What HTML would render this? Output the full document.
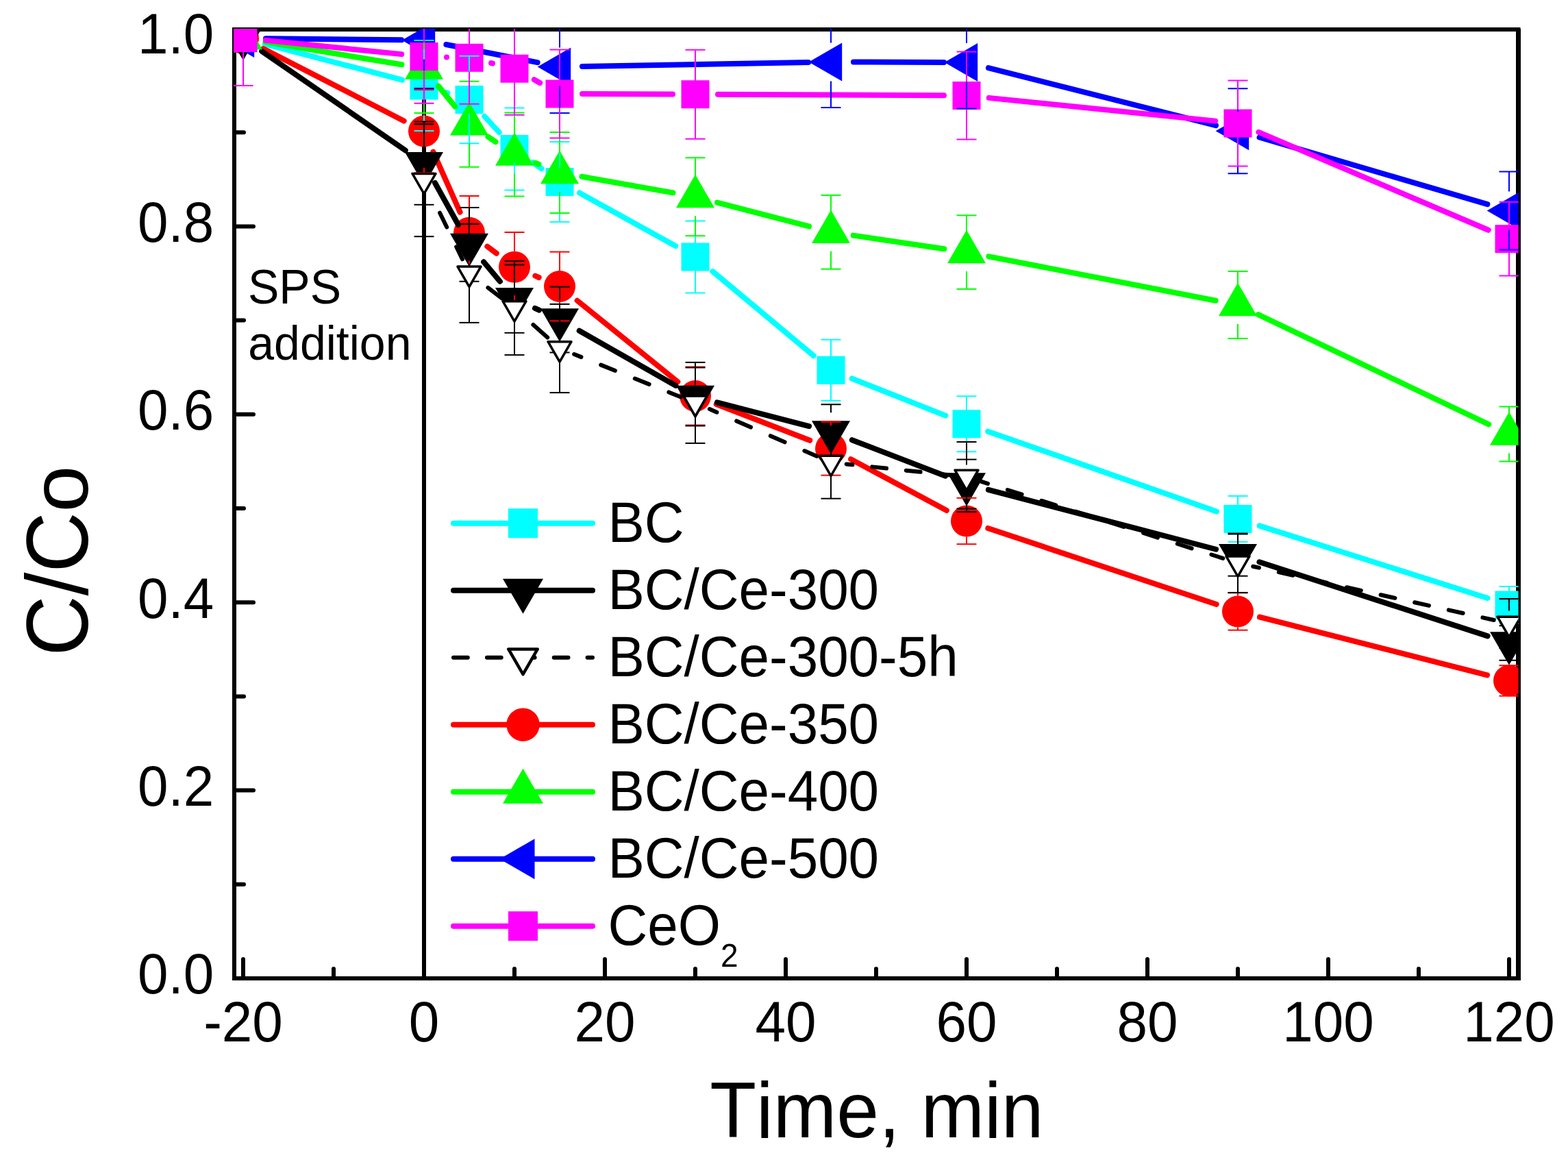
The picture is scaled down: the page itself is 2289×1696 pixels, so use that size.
<!DOCTYPE html>
<html><head><meta charset="utf-8"><title>C/Co vs Time</title>
<style>
html,body{margin:0;padding:0;background:#fff;}
body{width:2289px;height:1696px;overflow:hidden;}
svg{display:block;}
text{font-family:"Liberation Sans", Arial, sans-serif;font-kerning:none;font-feature-settings:"kern" 0;}
</style></head><body>
<svg width="2289" height="1696" viewBox="0 0 2289 1696"><g fill="none" stroke="#000">
<rect x="342" y="43" width="1874.5" height="1385" stroke-width="6"/>
</g>
<line x1="2216.5" y1="42" x2="2216.5" y2="1431" stroke="#000" stroke-width="7"/>
<g stroke="#000" stroke-width="6" stroke-linecap="round"><line x1="345" y1="1428.00" x2="370" y2="1428.00"/><line x1="345" y1="1290.80" x2="356" y2="1290.80"/><line x1="345" y1="1153.60" x2="370" y2="1153.60"/><line x1="345" y1="1016.40" x2="356" y2="1016.40"/><line x1="345" y1="879.20" x2="370" y2="879.20"/><line x1="345" y1="742.00" x2="356" y2="742.00"/><line x1="345" y1="604.80" x2="370" y2="604.80"/><line x1="345" y1="467.60" x2="356" y2="467.60"/><line x1="345" y1="330.40" x2="370" y2="330.40"/><line x1="345" y1="193.20" x2="356" y2="193.20"/><line x1="345" y1="56.00" x2="370" y2="56.00"/><line x1="355.00" y1="1425" x2="355.00" y2="1400"/><line x1="487.00" y1="1425" x2="487.00" y2="1414"/><line x1="619.00" y1="1425" x2="619.00" y2="1400"/><line x1="751.00" y1="1425" x2="751.00" y2="1414"/><line x1="883.00" y1="1425" x2="883.00" y2="1400"/><line x1="1015.00" y1="1425" x2="1015.00" y2="1414"/><line x1="1147.00" y1="1425" x2="1147.00" y2="1400"/><line x1="1279.00" y1="1425" x2="1279.00" y2="1414"/><line x1="1411.00" y1="1425" x2="1411.00" y2="1400"/><line x1="1543.00" y1="1425" x2="1543.00" y2="1414"/><line x1="1675.00" y1="1425" x2="1675.00" y2="1400"/><line x1="1807.00" y1="1425" x2="1807.00" y2="1414"/><line x1="1939.00" y1="1425" x2="1939.00" y2="1400"/><line x1="2071.00" y1="1425" x2="2071.00" y2="1414"/><line x1="2203.00" y1="1425" x2="2203.00" y2="1400"/></g>
<g font-family="Liberation Sans, Arial, sans-serif" fill="#000"><text transform="translate(312.30,1450.30) scale(1,1.04)" font-size="80" text-anchor="end">0.0</text><text transform="translate(312.30,1175.90) scale(1,1.04)" font-size="80" text-anchor="end">0.2</text><text transform="translate(312.30,901.50) scale(1,1.04)" font-size="80" text-anchor="end">0.4</text><text transform="translate(312.30,627.10) scale(1,1.04)" font-size="80" text-anchor="end">0.6</text><text transform="translate(312.30,352.70) scale(1,1.04)" font-size="80" text-anchor="end">0.8</text><text transform="translate(312.30,78.30) scale(1,1.04)" font-size="80" text-anchor="end">1.0</text><text transform="translate(355.00,1520.00) scale(1,1.04)" font-size="80" text-anchor="middle">-20</text><text transform="translate(619.00,1520.00) scale(1,1.04)" font-size="80" text-anchor="middle">0</text><text transform="translate(883.00,1520.00) scale(1,1.04)" font-size="80" text-anchor="middle">20</text><text transform="translate(1147.00,1520.00) scale(1,1.04)" font-size="80" text-anchor="middle">40</text><text transform="translate(1411.00,1520.00) scale(1,1.04)" font-size="80" text-anchor="middle">60</text><text transform="translate(1675.00,1520.00) scale(1,1.04)" font-size="80" text-anchor="middle">80</text><text transform="translate(1939.00,1520.00) scale(1,1.04)" font-size="80" text-anchor="middle">100</text><text transform="translate(2203.00,1520.00) scale(1,1.04)" font-size="80" text-anchor="middle">120</text></g>
<g font-family="Liberation Sans, Arial, sans-serif" fill="#000">
<text transform="translate(128.4,957.5) rotate(-90) scale(1,1.045)" font-size="122">C/C<tspan font-size="114.4" textLength="67.85" lengthAdjust="spacingAndGlyphs">o</tspan></text>
<text transform="translate(1036.30,1660.00) scale(1,1.04)" font-size="111" text-anchor="start">Time, min</text>
<text transform="translate(362.00,443.00) scale(1,1.04)" font-size="68" text-anchor="start">SPS</text>
<text transform="translate(362.30,524.70) scale(1,1.04)" font-size="68" text-anchor="start">addition</text>
</g>
<defs><clipPath id="pc"><rect x="341" y="42" width="1875.5" height="1386"/></clipPath></defs>
<g clip-path="url(#pc)">
<line x1="619" y1="42" x2="619" y2="1428" stroke="#000" stroke-width="6"/>
<line x1="386.93" y1="64.34" x2="587.07" y2="116.66" stroke="#00FFFF" stroke-width="8" stroke-linecap="round"/>
<line x1="650.51" y1="134.79" x2="653.49" y2="135.71" stroke="#00FFFF" stroke-width="8" stroke-linecap="round"/>
<line x1="707.30" y1="169.83" x2="728.70" y2="193.17" stroke="#00FFFF" stroke-width="8" stroke-linecap="round"/>
<line x1="777.69" y1="236.91" x2="790.31" y2="246.09" stroke="#00FFFF" stroke-width="8" stroke-linecap="round"/>
<line x1="845.88" y1="281.47" x2="986.12" y2="359.03" stroke="#00FFFF" stroke-width="8" stroke-linecap="round"/>
<line x1="1040.33" y1="396.15" x2="1187.67" y2="519.15" stroke="#00FFFF" stroke-width="8" stroke-linecap="round"/>
<line x1="1243.68" y1="552.46" x2="1380.32" y2="606.64" stroke="#00FFFF" stroke-width="8" stroke-linecap="round"/>
<line x1="1442.15" y1="629.70" x2="1775.85" y2="746.50" stroke="#00FFFF" stroke-width="8" stroke-linecap="round"/>
<line x1="1838.46" y1="767.38" x2="2171.54" y2="873.02" stroke="#00FFFF" stroke-width="8" stroke-linecap="round"/>
<rect x="334.50" y="35.50" width="41" height="41" fill="#00FFFF"/>
<rect x="598.50" y="104.50" width="41" height="41" fill="#00FFFF"/>
<rect x="664.50" y="125.00" width="41" height="41" fill="#00FFFF"/>
<rect x="730.50" y="197.00" width="41" height="41" fill="#00FFFF"/>
<rect x="796.50" y="245.00" width="41" height="41" fill="#00FFFF"/>
<rect x="994.50" y="354.50" width="41" height="41" fill="#00FFFF"/>
<rect x="1192.50" y="519.80" width="41" height="41" fill="#00FFFF"/>
<rect x="1390.50" y="598.30" width="41" height="41" fill="#00FFFF"/>
<rect x="1786.50" y="736.90" width="41" height="41" fill="#00FFFF"/>
<rect x="2182.50" y="862.50" width="41" height="41" fill="#00FFFF"/>
<line x1="384.35" y1="71.08" x2="589.65" y2="176.52" stroke="#FF0000" stroke-width="8" stroke-linecap="round"/>
<line x1="632.43" y1="221.74" x2="671.57" y2="309.56" stroke="#FF0000" stroke-width="8" stroke-linecap="round"/>
<line x1="711.30" y1="359.63" x2="724.70" y2="369.77" stroke="#FF0000" stroke-width="8" stroke-linecap="round"/>
<line x1="781.33" y1="402.70" x2="786.67" y2="405.00" stroke="#FF0000" stroke-width="8" stroke-linecap="round"/>
<line x1="842.67" y1="438.74" x2="989.33" y2="557.26" stroke="#FF0000" stroke-width="8" stroke-linecap="round"/>
<line x1="1045.77" y1="589.92" x2="1182.23" y2="642.78" stroke="#FF0000" stroke-width="8" stroke-linecap="round"/>
<line x1="1242.11" y1="670.25" x2="1381.89" y2="744.95" stroke="#FF0000" stroke-width="8" stroke-linecap="round"/>
<line x1="1442.31" y1="770.94" x2="1775.69" y2="882.06" stroke="#FF0000" stroke-width="8" stroke-linecap="round"/>
<line x1="1838.98" y1="900.66" x2="2171.02" y2="985.34" stroke="#FF0000" stroke-width="8" stroke-linecap="round"/>
<circle cx="355.00" cy="56.00" r="23" fill="#FF0000"/>
<circle cx="619.00" cy="191.60" r="23" fill="#FF0000"/>
<circle cx="685.00" cy="339.70" r="23" fill="#FF0000"/>
<circle cx="751.00" cy="389.70" r="23" fill="#FF0000"/>
<circle cx="817.00" cy="418.00" r="23" fill="#FF0000"/>
<circle cx="1015.00" cy="578.00" r="23" fill="#FF0000"/>
<circle cx="1213.00" cy="654.70" r="23" fill="#FF0000"/>
<circle cx="1411.00" cy="760.50" r="23" fill="#FF0000"/>
<circle cx="1807.00" cy="892.50" r="23" fill="#FF0000"/>
<circle cx="2203.00" cy="993.50" r="23" fill="#FF0000"/>
<line x1="382.16" y1="74.74" x2="591.84" y2="219.46" stroke="#000000" stroke-width="8" stroke-linecap="round"/>
<line x1="635.04" y1="267.04" x2="668.96" y2="328.01" stroke="#000000" stroke-width="8" stroke-linecap="round"/>
<line x1="706.12" y1="382.21" x2="729.88" y2="410.74" stroke="#000000" stroke-width="8" stroke-linecap="round"/>
<line x1="780.97" y1="449.91" x2="787.03" y2="452.69" stroke="#000000" stroke-width="8" stroke-linecap="round"/>
<line x1="845.69" y1="482.80" x2="986.31" y2="562.70" stroke="#000000" stroke-width="8" stroke-linecap="round"/>
<line x1="1046.95" y1="587.28" x2="1181.05" y2="622.02" stroke="#000000" stroke-width="8" stroke-linecap="round"/>
<line x1="1243.80" y1="642.15" x2="1380.20" y2="694.65" stroke="#000000" stroke-width="8" stroke-linecap="round"/>
<line x1="1442.93" y1="714.85" x2="1775.07" y2="801.75" stroke="#000000" stroke-width="8" stroke-linecap="round"/>
<line x1="1838.39" y1="820.28" x2="2171.61" y2="928.32" stroke="#000000" stroke-width="8" stroke-linecap="round"/>
<polygon points="355.00,88.33 327.00,39.83 383.00,39.83" fill="#000000"/>
<polygon points="619.00,270.53 591.00,222.03 647.00,222.03" fill="#000000"/>
<polygon points="685.00,389.18 657.00,340.68 713.00,340.68" fill="#000000"/>
<polygon points="751.00,468.43 723.00,419.93 779.00,419.93" fill="#000000"/>
<polygon points="817.00,498.83 789.00,450.33 845.00,450.33" fill="#000000"/>
<polygon points="1015.00,611.33 987.00,562.83 1043.00,562.83" fill="#000000"/>
<polygon points="1213.00,662.63 1185.00,614.13 1241.00,614.13" fill="#000000"/>
<polygon points="1411.00,738.83 1383.00,690.33 1439.00,690.33" fill="#000000"/>
<polygon points="1807.00,842.43 1779.00,793.93 1835.00,793.93" fill="#000000"/>
<polygon points="2203.00,970.83 2175.00,922.33 2231.00,922.33" fill="#000000"/>
<line x1="387.56" y1="61.39" x2="586.44" y2="94.31" stroke="#00FF00" stroke-width="8" stroke-linecap="round"/>
<line x1="639.75" y1="125.36" x2="664.25" y2="155.64" stroke="#00FF00" stroke-width="8" stroke-linecap="round"/>
<line x1="712.42" y1="199.66" x2="723.58" y2="207.14" stroke="#00FF00" stroke-width="8" stroke-linecap="round"/>
<line x1="781.62" y1="237.80" x2="786.38" y2="239.70" stroke="#00FF00" stroke-width="8" stroke-linecap="round"/>
<line x1="849.49" y1="257.78" x2="982.51" y2="281.42" stroke="#00FF00" stroke-width="8" stroke-linecap="round"/>
<line x1="1046.93" y1="295.52" x2="1181.07" y2="330.48" stroke="#00FF00" stroke-width="8" stroke-linecap="round"/>
<line x1="1245.64" y1="343.63" x2="1378.36" y2="363.27" stroke="#00FF00" stroke-width="8" stroke-linecap="round"/>
<line x1="1443.39" y1="374.39" x2="1774.61" y2="438.71" stroke="#00FF00" stroke-width="8" stroke-linecap="round"/>
<line x1="1836.80" y1="459.18" x2="2173.20" y2="619.32" stroke="#00FF00" stroke-width="8" stroke-linecap="round"/>
<polygon points="355.00,23.67 327.00,72.17 383.00,72.17" fill="#00FF00"/>
<polygon points="619.00,67.37 591.00,115.87 647.00,115.87" fill="#00FF00"/>
<polygon points="685.00,148.97 657.00,197.47 713.00,197.47" fill="#00FF00"/>
<polygon points="751.00,193.17 723.00,241.67 779.00,241.67" fill="#00FF00"/>
<polygon points="817.00,219.67 789.00,268.17 845.00,268.17" fill="#00FF00"/>
<polygon points="1015.00,254.87 987.00,303.37 1043.00,303.37" fill="#00FF00"/>
<polygon points="1213.00,306.47 1185.00,354.97 1241.00,354.97" fill="#00FF00"/>
<polygon points="1411.00,335.77 1383.00,384.27 1439.00,384.27" fill="#00FF00"/>
<polygon points="1807.00,412.67 1779.00,461.17 1835.00,461.17" fill="#00FF00"/>
<polygon points="2203.00,601.17 2175.00,649.67 2231.00,649.67" fill="#00FF00"/>
<line x1="388.00" y1="56.34" x2="586.00" y2="58.36" stroke="#0000FF" stroke-width="8" stroke-linecap="round"/>
<line x1="651.38" y1="65.05" x2="784.62" y2="91.15" stroke="#0000FF" stroke-width="8" stroke-linecap="round"/>
<line x1="849.99" y1="96.91" x2="1180.01" y2="90.99" stroke="#0000FF" stroke-width="8" stroke-linecap="round"/>
<line x1="1246.00" y1="90.50" x2="1378.00" y2="90.90" stroke="#0000FF" stroke-width="8" stroke-linecap="round"/>
<line x1="1442.99" y1="99.09" x2="1775.01" y2="183.11" stroke="#0000FF" stroke-width="8" stroke-linecap="round"/>
<line x1="1838.66" y1="200.50" x2="2171.34" y2="298.20" stroke="#0000FF" stroke-width="8" stroke-linecap="round"/>
<polygon points="322.67,56.00 371.17,28.00 371.17,84.00" fill="#0000FF"/>
<polygon points="586.67,58.70 635.17,30.70 635.17,86.70" fill="#0000FF"/>
<polygon points="784.67,97.50 833.17,69.50 833.17,125.50" fill="#0000FF"/>
<polygon points="1180.67,90.40 1229.17,62.40 1229.17,118.40" fill="#0000FF"/>
<polygon points="1378.67,91.00 1427.17,63.00 1427.17,119.00" fill="#0000FF"/>
<polygon points="1774.67,191.20 1823.17,163.20 1823.17,219.20" fill="#0000FF"/>
<polygon points="2170.67,307.50 2219.17,279.50 2219.17,335.50" fill="#0000FF"/>
<line x1="387.83" y1="58.86" x2="586.17" y2="79.14" stroke="#FF00FF" stroke-width="8" stroke-linecap="round"/>
<line x1="651.99" y1="83.40" x2="652.01" y2="83.40" stroke="#FF00FF" stroke-width="8" stroke-linecap="round"/>
<line x1="717.08" y1="92.03" x2="718.92" y2="92.47" stroke="#FF00FF" stroke-width="8" stroke-linecap="round"/>
<line x1="779.82" y1="116.27" x2="788.18" y2="120.93" stroke="#FF00FF" stroke-width="8" stroke-linecap="round"/>
<line x1="850.00" y1="137.12" x2="982.00" y2="137.58" stroke="#FF00FF" stroke-width="8" stroke-linecap="round"/>
<line x1="1048.00" y1="137.85" x2="1378.00" y2="139.35" stroke="#FF00FF" stroke-width="8" stroke-linecap="round"/>
<line x1="1443.83" y1="142.86" x2="1774.17" y2="176.64" stroke="#FF00FF" stroke-width="8" stroke-linecap="round"/>
<line x1="1837.36" y1="192.93" x2="2172.64" y2="335.77" stroke="#FF00FF" stroke-width="8" stroke-linecap="round"/>
<rect x="334.50" y="35.00" width="41" height="41" fill="#FF00FF"/>
<rect x="598.50" y="62.00" width="41" height="41" fill="#FF00FF"/>
<rect x="664.50" y="63.80" width="41" height="41" fill="#FF00FF"/>
<rect x="730.50" y="79.70" width="41" height="41" fill="#FF00FF"/>
<rect x="796.50" y="116.50" width="41" height="41" fill="#FF00FF"/>
<rect x="994.50" y="117.20" width="41" height="41" fill="#FF00FF"/>
<rect x="1390.50" y="119.00" width="41" height="41" fill="#FF00FF"/>
<rect x="1786.50" y="159.50" width="41" height="41" fill="#FF00FF"/>
<rect x="2182.50" y="328.20" width="41" height="41" fill="#FF00FF"/>
<line x1="619.00" y1="105.00" x2="619.00" y2="59.00" stroke="#00FFFF" stroke-width="2"/>
<line x1="604.50" y1="59.00" x2="633.50" y2="59.00" stroke="#00FFFF" stroke-width="2"/>
<line x1="619.00" y1="145.00" x2="619.00" y2="191.00" stroke="#00FFFF" stroke-width="2"/>
<line x1="604.50" y1="191.00" x2="633.50" y2="191.00" stroke="#00FFFF" stroke-width="2"/>
<line x1="685.00" y1="125.50" x2="685.00" y2="81.80" stroke="#00FFFF" stroke-width="2"/>
<line x1="670.50" y1="81.80" x2="699.50" y2="81.80" stroke="#00FFFF" stroke-width="2"/>
<line x1="685.00" y1="165.50" x2="685.00" y2="209.20" stroke="#00FFFF" stroke-width="2"/>
<line x1="670.50" y1="209.20" x2="699.50" y2="209.20" stroke="#00FFFF" stroke-width="2"/>
<line x1="751.00" y1="197.50" x2="751.00" y2="157.50" stroke="#00FFFF" stroke-width="2"/>
<line x1="736.50" y1="157.50" x2="765.50" y2="157.50" stroke="#00FFFF" stroke-width="2"/>
<line x1="751.00" y1="237.50" x2="751.00" y2="277.50" stroke="#00FFFF" stroke-width="2"/>
<line x1="736.50" y1="277.50" x2="765.50" y2="277.50" stroke="#00FFFF" stroke-width="2"/>
<line x1="817.00" y1="245.50" x2="817.00" y2="207.10" stroke="#00FFFF" stroke-width="2"/>
<line x1="802.50" y1="207.10" x2="831.50" y2="207.10" stroke="#00FFFF" stroke-width="2"/>
<line x1="817.00" y1="285.50" x2="817.00" y2="323.90" stroke="#00FFFF" stroke-width="2"/>
<line x1="802.50" y1="323.90" x2="831.50" y2="323.90" stroke="#00FFFF" stroke-width="2"/>
<line x1="1015.00" y1="355.00" x2="1015.00" y2="322.50" stroke="#00FFFF" stroke-width="2"/>
<line x1="1000.50" y1="322.50" x2="1029.50" y2="322.50" stroke="#00FFFF" stroke-width="2"/>
<line x1="1015.00" y1="395.00" x2="1015.00" y2="427.50" stroke="#00FFFF" stroke-width="2"/>
<line x1="1000.50" y1="427.50" x2="1029.50" y2="427.50" stroke="#00FFFF" stroke-width="2"/>
<line x1="1213.00" y1="520.30" x2="1213.00" y2="495.80" stroke="#00FFFF" stroke-width="2"/>
<line x1="1198.50" y1="495.80" x2="1227.50" y2="495.80" stroke="#00FFFF" stroke-width="2"/>
<line x1="1213.00" y1="560.30" x2="1213.00" y2="584.80" stroke="#00FFFF" stroke-width="2"/>
<line x1="1198.50" y1="584.80" x2="1227.50" y2="584.80" stroke="#00FFFF" stroke-width="2"/>
<line x1="1411.00" y1="598.80" x2="1411.00" y2="578.30" stroke="#00FFFF" stroke-width="2"/>
<line x1="1396.50" y1="578.30" x2="1425.50" y2="578.30" stroke="#00FFFF" stroke-width="2"/>
<line x1="1411.00" y1="638.80" x2="1411.00" y2="659.30" stroke="#00FFFF" stroke-width="2"/>
<line x1="1396.50" y1="659.30" x2="1425.50" y2="659.30" stroke="#00FFFF" stroke-width="2"/>
<line x1="1807.00" y1="737.40" x2="1807.00" y2="723.90" stroke="#00FFFF" stroke-width="2"/>
<line x1="1792.50" y1="723.90" x2="1821.50" y2="723.90" stroke="#00FFFF" stroke-width="2"/>
<line x1="1807.00" y1="777.40" x2="1807.00" y2="790.90" stroke="#00FFFF" stroke-width="2"/>
<line x1="1792.50" y1="790.90" x2="1821.50" y2="790.90" stroke="#00FFFF" stroke-width="2"/>
<line x1="2203.00" y1="863.00" x2="2203.00" y2="856.00" stroke="#00FFFF" stroke-width="2"/>
<line x1="2188.50" y1="856.00" x2="2217.50" y2="856.00" stroke="#00FFFF" stroke-width="2"/>
<line x1="2203.00" y1="903.00" x2="2203.00" y2="910.00" stroke="#00FFFF" stroke-width="2"/>
<line x1="2188.50" y1="910.00" x2="2217.50" y2="910.00" stroke="#00FFFF" stroke-width="2"/>
<line x1="619.00" y1="168.60" x2="619.00" y2="130.90" stroke="#FF0000" stroke-width="2"/>
<line x1="604.50" y1="130.90" x2="633.50" y2="130.90" stroke="#FF0000" stroke-width="2"/>
<line x1="619.00" y1="214.60" x2="619.00" y2="252.30" stroke="#FF0000" stroke-width="2"/>
<line x1="604.50" y1="252.30" x2="633.50" y2="252.30" stroke="#FF0000" stroke-width="2"/>
<line x1="685.00" y1="316.70" x2="685.00" y2="286.00" stroke="#FF0000" stroke-width="2"/>
<line x1="670.50" y1="286.00" x2="699.50" y2="286.00" stroke="#FF0000" stroke-width="2"/>
<line x1="685.00" y1="362.70" x2="685.00" y2="393.40" stroke="#FF0000" stroke-width="2"/>
<line x1="670.50" y1="393.40" x2="699.50" y2="393.40" stroke="#FF0000" stroke-width="2"/>
<line x1="751.00" y1="366.70" x2="751.00" y2="339.00" stroke="#FF0000" stroke-width="2"/>
<line x1="736.50" y1="339.00" x2="765.50" y2="339.00" stroke="#FF0000" stroke-width="2"/>
<line x1="751.00" y1="412.70" x2="751.00" y2="440.40" stroke="#FF0000" stroke-width="2"/>
<line x1="736.50" y1="440.40" x2="765.50" y2="440.40" stroke="#FF0000" stroke-width="2"/>
<line x1="817.00" y1="395.00" x2="817.00" y2="367.60" stroke="#FF0000" stroke-width="2"/>
<line x1="802.50" y1="367.60" x2="831.50" y2="367.60" stroke="#FF0000" stroke-width="2"/>
<line x1="817.00" y1="441.00" x2="817.00" y2="468.40" stroke="#FF0000" stroke-width="2"/>
<line x1="802.50" y1="468.40" x2="831.50" y2="468.40" stroke="#FF0000" stroke-width="2"/>
<line x1="1015.00" y1="555.00" x2="1015.00" y2="535.50" stroke="#FF0000" stroke-width="2"/>
<line x1="1000.50" y1="535.50" x2="1029.50" y2="535.50" stroke="#FF0000" stroke-width="2"/>
<line x1="1015.00" y1="601.00" x2="1015.00" y2="620.50" stroke="#FF0000" stroke-width="2"/>
<line x1="1000.50" y1="620.50" x2="1029.50" y2="620.50" stroke="#FF0000" stroke-width="2"/>
<line x1="1213.00" y1="631.70" x2="1213.00" y2="615.70" stroke="#FF0000" stroke-width="2"/>
<line x1="1198.50" y1="615.70" x2="1227.50" y2="615.70" stroke="#FF0000" stroke-width="2"/>
<line x1="1213.00" y1="677.70" x2="1213.00" y2="693.70" stroke="#FF0000" stroke-width="2"/>
<line x1="1198.50" y1="693.70" x2="1227.50" y2="693.70" stroke="#FF0000" stroke-width="2"/>
<line x1="1411.00" y1="737.50" x2="1411.00" y2="726.80" stroke="#FF0000" stroke-width="2"/>
<line x1="1396.50" y1="726.80" x2="1425.50" y2="726.80" stroke="#FF0000" stroke-width="2"/>
<line x1="1411.00" y1="783.50" x2="1411.00" y2="794.20" stroke="#FF0000" stroke-width="2"/>
<line x1="1396.50" y1="794.20" x2="1425.50" y2="794.20" stroke="#FF0000" stroke-width="2"/>
<line x1="1807.00" y1="869.50" x2="1807.00" y2="865.30" stroke="#FF0000" stroke-width="2"/>
<line x1="1792.50" y1="865.30" x2="1821.50" y2="865.30" stroke="#FF0000" stroke-width="2"/>
<line x1="1807.00" y1="915.50" x2="1807.00" y2="919.70" stroke="#FF0000" stroke-width="2"/>
<line x1="1792.50" y1="919.70" x2="1821.50" y2="919.70" stroke="#FF0000" stroke-width="2"/>
<line x1="2188.50" y1="971.20" x2="2217.50" y2="971.20" stroke="#FF0000" stroke-width="2"/>
<line x1="2188.50" y1="1015.80" x2="2217.50" y2="1015.80" stroke="#FF0000" stroke-width="2"/>
<line x1="619.00" y1="210.20" x2="619.00" y2="177.60" stroke="#000000" stroke-width="2"/>
<line x1="604.50" y1="177.60" x2="633.50" y2="177.60" stroke="#000000" stroke-width="2"/>
<line x1="619.00" y1="266.20" x2="619.00" y2="298.80" stroke="#000000" stroke-width="2"/>
<line x1="604.50" y1="298.80" x2="633.50" y2="298.80" stroke="#000000" stroke-width="2"/>
<line x1="685.00" y1="328.85" x2="685.00" y2="302.95" stroke="#000000" stroke-width="2"/>
<line x1="670.50" y1="302.95" x2="699.50" y2="302.95" stroke="#000000" stroke-width="2"/>
<line x1="685.00" y1="384.85" x2="685.00" y2="410.75" stroke="#000000" stroke-width="2"/>
<line x1="670.50" y1="410.75" x2="699.50" y2="410.75" stroke="#000000" stroke-width="2"/>
<line x1="751.00" y1="408.10" x2="751.00" y2="386.40" stroke="#000000" stroke-width="2"/>
<line x1="736.50" y1="386.40" x2="765.50" y2="386.40" stroke="#000000" stroke-width="2"/>
<line x1="751.00" y1="464.10" x2="751.00" y2="485.80" stroke="#000000" stroke-width="2"/>
<line x1="736.50" y1="485.80" x2="765.50" y2="485.80" stroke="#000000" stroke-width="2"/>
<line x1="817.00" y1="438.50" x2="817.00" y2="418.50" stroke="#000000" stroke-width="2"/>
<line x1="802.50" y1="418.50" x2="831.50" y2="418.50" stroke="#000000" stroke-width="2"/>
<line x1="817.00" y1="494.50" x2="817.00" y2="514.50" stroke="#000000" stroke-width="2"/>
<line x1="802.50" y1="514.50" x2="831.50" y2="514.50" stroke="#000000" stroke-width="2"/>
<line x1="1015.00" y1="551.00" x2="1015.00" y2="536.50" stroke="#000000" stroke-width="2"/>
<line x1="1000.50" y1="536.50" x2="1029.50" y2="536.50" stroke="#000000" stroke-width="2"/>
<line x1="1015.00" y1="607.00" x2="1015.00" y2="621.50" stroke="#000000" stroke-width="2"/>
<line x1="1000.50" y1="621.50" x2="1029.50" y2="621.50" stroke="#000000" stroke-width="2"/>
<line x1="1213.00" y1="602.30" x2="1213.00" y2="590.30" stroke="#000000" stroke-width="2"/>
<line x1="1198.50" y1="590.30" x2="1227.50" y2="590.30" stroke="#000000" stroke-width="2"/>
<line x1="1213.00" y1="658.30" x2="1213.00" y2="670.30" stroke="#000000" stroke-width="2"/>
<line x1="1198.50" y1="670.30" x2="1227.50" y2="670.30" stroke="#000000" stroke-width="2"/>
<line x1="1411.00" y1="678.50" x2="1411.00" y2="670.60" stroke="#000000" stroke-width="2"/>
<line x1="1396.50" y1="670.60" x2="1425.50" y2="670.60" stroke="#000000" stroke-width="2"/>
<line x1="1411.00" y1="734.50" x2="1411.00" y2="742.40" stroke="#000000" stroke-width="2"/>
<line x1="1396.50" y1="742.40" x2="1425.50" y2="742.40" stroke="#000000" stroke-width="2"/>
<line x1="1807.00" y1="782.10" x2="1807.00" y2="779.50" stroke="#000000" stroke-width="2"/>
<line x1="1792.50" y1="779.50" x2="1821.50" y2="779.50" stroke="#000000" stroke-width="2"/>
<line x1="1807.00" y1="838.10" x2="1807.00" y2="840.70" stroke="#000000" stroke-width="2"/>
<line x1="1792.50" y1="840.70" x2="1821.50" y2="840.70" stroke="#000000" stroke-width="2"/>
<line x1="2188.50" y1="913.20" x2="2217.50" y2="913.20" stroke="#000000" stroke-width="2"/>
<line x1="2188.50" y1="963.80" x2="2217.50" y2="963.80" stroke="#000000" stroke-width="2"/>
<line x1="619.00" y1="71.70" x2="619.00" y2="34.40" stroke="#00FF00" stroke-width="2"/>
<line x1="604.50" y1="34.40" x2="633.50" y2="34.40" stroke="#00FF00" stroke-width="2"/>
<line x1="619.00" y1="127.70" x2="619.00" y2="165.00" stroke="#00FF00" stroke-width="2"/>
<line x1="604.50" y1="165.00" x2="633.50" y2="165.00" stroke="#00FF00" stroke-width="2"/>
<line x1="685.00" y1="153.30" x2="685.00" y2="118.80" stroke="#00FF00" stroke-width="2"/>
<line x1="670.50" y1="118.80" x2="699.50" y2="118.80" stroke="#00FF00" stroke-width="2"/>
<line x1="685.00" y1="209.30" x2="685.00" y2="243.80" stroke="#00FF00" stroke-width="2"/>
<line x1="670.50" y1="243.80" x2="699.50" y2="243.80" stroke="#00FF00" stroke-width="2"/>
<line x1="751.00" y1="197.50" x2="751.00" y2="164.50" stroke="#00FF00" stroke-width="2"/>
<line x1="736.50" y1="164.50" x2="765.50" y2="164.50" stroke="#00FF00" stroke-width="2"/>
<line x1="751.00" y1="253.50" x2="751.00" y2="286.50" stroke="#00FF00" stroke-width="2"/>
<line x1="736.50" y1="286.50" x2="765.50" y2="286.50" stroke="#00FF00" stroke-width="2"/>
<line x1="817.00" y1="224.00" x2="817.00" y2="193.00" stroke="#00FF00" stroke-width="2"/>
<line x1="802.50" y1="193.00" x2="831.50" y2="193.00" stroke="#00FF00" stroke-width="2"/>
<line x1="817.00" y1="280.00" x2="817.00" y2="311.00" stroke="#00FF00" stroke-width="2"/>
<line x1="802.50" y1="311.00" x2="831.50" y2="311.00" stroke="#00FF00" stroke-width="2"/>
<line x1="1015.00" y1="259.20" x2="1015.00" y2="230.20" stroke="#00FF00" stroke-width="2"/>
<line x1="1000.50" y1="230.20" x2="1029.50" y2="230.20" stroke="#00FF00" stroke-width="2"/>
<line x1="1015.00" y1="315.20" x2="1015.00" y2="344.20" stroke="#00FF00" stroke-width="2"/>
<line x1="1000.50" y1="344.20" x2="1029.50" y2="344.20" stroke="#00FF00" stroke-width="2"/>
<line x1="1213.00" y1="310.80" x2="1213.00" y2="284.90" stroke="#00FF00" stroke-width="2"/>
<line x1="1198.50" y1="284.90" x2="1227.50" y2="284.90" stroke="#00FF00" stroke-width="2"/>
<line x1="1213.00" y1="366.80" x2="1213.00" y2="392.70" stroke="#00FF00" stroke-width="2"/>
<line x1="1198.50" y1="392.70" x2="1227.50" y2="392.70" stroke="#00FF00" stroke-width="2"/>
<line x1="1411.00" y1="340.10" x2="1411.00" y2="314.30" stroke="#00FF00" stroke-width="2"/>
<line x1="1396.50" y1="314.30" x2="1425.50" y2="314.30" stroke="#00FF00" stroke-width="2"/>
<line x1="1411.00" y1="396.10" x2="1411.00" y2="421.90" stroke="#00FF00" stroke-width="2"/>
<line x1="1396.50" y1="421.90" x2="1425.50" y2="421.90" stroke="#00FF00" stroke-width="2"/>
<line x1="1807.00" y1="417.00" x2="1807.00" y2="396.00" stroke="#00FF00" stroke-width="2"/>
<line x1="1792.50" y1="396.00" x2="1821.50" y2="396.00" stroke="#00FF00" stroke-width="2"/>
<line x1="1807.00" y1="473.00" x2="1807.00" y2="494.00" stroke="#00FF00" stroke-width="2"/>
<line x1="1792.50" y1="494.00" x2="1821.50" y2="494.00" stroke="#00FF00" stroke-width="2"/>
<line x1="2203.00" y1="605.50" x2="2203.00" y2="593.50" stroke="#00FF00" stroke-width="2"/>
<line x1="2188.50" y1="593.50" x2="2217.50" y2="593.50" stroke="#00FF00" stroke-width="2"/>
<line x1="2203.00" y1="661.50" x2="2203.00" y2="673.50" stroke="#00FF00" stroke-width="2"/>
<line x1="2188.50" y1="673.50" x2="2217.50" y2="673.50" stroke="#00FF00" stroke-width="2"/>
<line x1="619.00" y1="30.70" x2="619.00" y2="-11.60" stroke="#0000FF" stroke-width="2"/>
<line x1="604.50" y1="-11.60" x2="633.50" y2="-11.60" stroke="#0000FF" stroke-width="2"/>
<line x1="619.00" y1="86.70" x2="619.00" y2="129.00" stroke="#0000FF" stroke-width="2"/>
<line x1="604.50" y1="129.00" x2="633.50" y2="129.00" stroke="#0000FF" stroke-width="2"/>
<line x1="817.00" y1="69.50" x2="817.00" y2="30.10" stroke="#0000FF" stroke-width="2"/>
<line x1="802.50" y1="30.10" x2="831.50" y2="30.10" stroke="#0000FF" stroke-width="2"/>
<line x1="817.00" y1="125.50" x2="817.00" y2="164.90" stroke="#0000FF" stroke-width="2"/>
<line x1="802.50" y1="164.90" x2="831.50" y2="164.90" stroke="#0000FF" stroke-width="2"/>
<line x1="1213.00" y1="62.40" x2="1213.00" y2="23.90" stroke="#0000FF" stroke-width="2"/>
<line x1="1198.50" y1="23.90" x2="1227.50" y2="23.90" stroke="#0000FF" stroke-width="2"/>
<line x1="1213.00" y1="118.40" x2="1213.00" y2="156.90" stroke="#0000FF" stroke-width="2"/>
<line x1="1198.50" y1="156.90" x2="1227.50" y2="156.90" stroke="#0000FF" stroke-width="2"/>
<line x1="1411.00" y1="63.00" x2="1411.00" y2="23.40" stroke="#0000FF" stroke-width="2"/>
<line x1="1396.50" y1="23.40" x2="1425.50" y2="23.40" stroke="#0000FF" stroke-width="2"/>
<line x1="1411.00" y1="119.00" x2="1411.00" y2="158.60" stroke="#0000FF" stroke-width="2"/>
<line x1="1396.50" y1="158.60" x2="1425.50" y2="158.60" stroke="#0000FF" stroke-width="2"/>
<line x1="1807.00" y1="163.20" x2="1807.00" y2="129.20" stroke="#0000FF" stroke-width="2"/>
<line x1="1792.50" y1="129.20" x2="1821.50" y2="129.20" stroke="#0000FF" stroke-width="2"/>
<line x1="1807.00" y1="219.20" x2="1807.00" y2="253.20" stroke="#0000FF" stroke-width="2"/>
<line x1="1792.50" y1="253.20" x2="1821.50" y2="253.20" stroke="#0000FF" stroke-width="2"/>
<line x1="2203.00" y1="279.50" x2="2203.00" y2="250.60" stroke="#0000FF" stroke-width="2"/>
<line x1="2188.50" y1="250.60" x2="2217.50" y2="250.60" stroke="#0000FF" stroke-width="2"/>
<line x1="2203.00" y1="335.50" x2="2203.00" y2="364.40" stroke="#0000FF" stroke-width="2"/>
<line x1="2188.50" y1="364.40" x2="2217.50" y2="364.40" stroke="#0000FF" stroke-width="2"/>
<line x1="355.00" y1="35.50" x2="355.00" y2="-14.00" stroke="#FF00FF" stroke-width="2"/>
<line x1="340.50" y1="-14.00" x2="369.50" y2="-14.00" stroke="#FF00FF" stroke-width="2"/>
<line x1="355.00" y1="75.50" x2="355.00" y2="125.00" stroke="#FF00FF" stroke-width="2"/>
<line x1="340.50" y1="125.00" x2="369.50" y2="125.00" stroke="#FF00FF" stroke-width="2"/>
<line x1="619.00" y1="62.50" x2="619.00" y2="14.20" stroke="#FF00FF" stroke-width="2"/>
<line x1="604.50" y1="14.20" x2="633.50" y2="14.20" stroke="#FF00FF" stroke-width="2"/>
<line x1="619.00" y1="102.50" x2="619.00" y2="150.80" stroke="#FF00FF" stroke-width="2"/>
<line x1="604.50" y1="150.80" x2="633.50" y2="150.80" stroke="#FF00FF" stroke-width="2"/>
<line x1="685.00" y1="64.30" x2="685.00" y2="16.80" stroke="#FF00FF" stroke-width="2"/>
<line x1="670.50" y1="16.80" x2="699.50" y2="16.80" stroke="#FF00FF" stroke-width="2"/>
<line x1="685.00" y1="104.30" x2="685.00" y2="151.80" stroke="#FF00FF" stroke-width="2"/>
<line x1="670.50" y1="151.80" x2="699.50" y2="151.80" stroke="#FF00FF" stroke-width="2"/>
<line x1="751.00" y1="80.20" x2="751.00" y2="32.70" stroke="#FF00FF" stroke-width="2"/>
<line x1="736.50" y1="32.70" x2="765.50" y2="32.70" stroke="#FF00FF" stroke-width="2"/>
<line x1="751.00" y1="120.20" x2="751.00" y2="167.70" stroke="#FF00FF" stroke-width="2"/>
<line x1="736.50" y1="167.70" x2="765.50" y2="167.70" stroke="#FF00FF" stroke-width="2"/>
<line x1="817.00" y1="117.00" x2="817.00" y2="72.60" stroke="#FF00FF" stroke-width="2"/>
<line x1="802.50" y1="72.60" x2="831.50" y2="72.60" stroke="#FF00FF" stroke-width="2"/>
<line x1="817.00" y1="157.00" x2="817.00" y2="201.40" stroke="#FF00FF" stroke-width="2"/>
<line x1="802.50" y1="201.40" x2="831.50" y2="201.40" stroke="#FF00FF" stroke-width="2"/>
<line x1="1015.00" y1="117.70" x2="1015.00" y2="72.70" stroke="#FF00FF" stroke-width="2"/>
<line x1="1000.50" y1="72.70" x2="1029.50" y2="72.70" stroke="#FF00FF" stroke-width="2"/>
<line x1="1015.00" y1="157.70" x2="1015.00" y2="202.70" stroke="#FF00FF" stroke-width="2"/>
<line x1="1000.50" y1="202.70" x2="1029.50" y2="202.70" stroke="#FF00FF" stroke-width="2"/>
<line x1="1411.00" y1="119.50" x2="1411.00" y2="75.50" stroke="#FF00FF" stroke-width="2"/>
<line x1="1396.50" y1="75.50" x2="1425.50" y2="75.50" stroke="#FF00FF" stroke-width="2"/>
<line x1="1411.00" y1="159.50" x2="1411.00" y2="203.50" stroke="#FF00FF" stroke-width="2"/>
<line x1="1396.50" y1="203.50" x2="1425.50" y2="203.50" stroke="#FF00FF" stroke-width="2"/>
<line x1="1807.00" y1="160.00" x2="1807.00" y2="117.50" stroke="#FF00FF" stroke-width="2"/>
<line x1="1792.50" y1="117.50" x2="1821.50" y2="117.50" stroke="#FF00FF" stroke-width="2"/>
<line x1="1807.00" y1="200.00" x2="1807.00" y2="242.50" stroke="#FF00FF" stroke-width="2"/>
<line x1="1792.50" y1="242.50" x2="1821.50" y2="242.50" stroke="#FF00FF" stroke-width="2"/>
<line x1="2203.00" y1="328.70" x2="2203.00" y2="294.80" stroke="#FF00FF" stroke-width="2"/>
<line x1="2188.50" y1="294.80" x2="2217.50" y2="294.80" stroke="#FF00FF" stroke-width="2"/>
<line x1="2203.00" y1="368.70" x2="2203.00" y2="402.60" stroke="#FF00FF" stroke-width="2"/>
<line x1="2188.50" y1="402.60" x2="2217.50" y2="402.60" stroke="#FF00FF" stroke-width="2"/>
<line x1="666.23" y1="360.30" x2="675.03" y2="378.40" stroke="#000000" stroke-width="6" stroke-linecap="round"/>
<line x1="642.10" y1="310.70" x2="652.22" y2="331.50" stroke="#000000" stroke-width="6" stroke-linecap="round"/>
<line x1="712.40" y1="419.91" x2="732.91" y2="435.63" stroke="#000000" stroke-width="6" stroke-linecap="round"/>
<line x1="778.40" y1="473.99" x2="799.20" y2="492.59" stroke="#000000" stroke-width="6" stroke-linecap="round"/>
<line x1="976.40" y1="572.42" x2="993.84" y2="579.41" stroke="#000000" stroke-width="6" stroke-linecap="round"/>
<line x1="926.80" y1="552.53" x2="947.60" y2="560.87" stroke="#000000" stroke-width="6" stroke-linecap="round"/>
<line x1="877.20" y1="532.64" x2="898.00" y2="540.98" stroke="#000000" stroke-width="6" stroke-linecap="round"/>
<line x1="838.16" y1="516.99" x2="848.40" y2="521.09" stroke="#000000" stroke-width="6" stroke-linecap="round"/>
<line x1="1174.40" y1="658.02" x2="1192.13" y2="665.82" stroke="#000000" stroke-width="6" stroke-linecap="round"/>
<line x1="1124.80" y1="636.20" x2="1145.60" y2="645.35" stroke="#000000" stroke-width="6" stroke-linecap="round"/>
<line x1="1075.20" y1="614.38" x2="1096.00" y2="623.53" stroke="#000000" stroke-width="6" stroke-linecap="round"/>
<line x1="1035.87" y1="597.08" x2="1046.40" y2="601.71" stroke="#000000" stroke-width="6" stroke-linecap="round"/>
<line x1="1372.40" y1="691.91" x2="1388.33" y2="693.60" stroke="#000000" stroke-width="6" stroke-linecap="round"/>
<line x1="1322.80" y1="686.65" x2="1343.60" y2="688.85" stroke="#000000" stroke-width="6" stroke-linecap="round"/>
<line x1="1273.20" y1="681.38" x2="1294.00" y2="683.59" stroke="#000000" stroke-width="6" stroke-linecap="round"/>
<line x1="1235.67" y1="677.40" x2="1244.40" y2="678.33" stroke="#000000" stroke-width="6" stroke-linecap="round"/>
<line x1="1768.40" y1="809.49" x2="1785.27" y2="814.85" stroke="#000000" stroke-width="6" stroke-linecap="round"/>
<line x1="1718.80" y1="793.74" x2="1739.60" y2="800.35" stroke="#000000" stroke-width="6" stroke-linecap="round"/>
<line x1="1669.20" y1="777.99" x2="1690.00" y2="784.60" stroke="#000000" stroke-width="6" stroke-linecap="round"/>
<line x1="1619.60" y1="762.24" x2="1640.40" y2="768.85" stroke="#000000" stroke-width="6" stroke-linecap="round"/>
<line x1="1570.00" y1="746.49" x2="1590.80" y2="753.10" stroke="#000000" stroke-width="6" stroke-linecap="round"/>
<line x1="1520.40" y1="730.74" x2="1541.20" y2="737.35" stroke="#000000" stroke-width="6" stroke-linecap="round"/>
<line x1="1470.80" y1="714.99" x2="1491.60" y2="721.59" stroke="#000000" stroke-width="6" stroke-linecap="round"/>
<line x1="1432.73" y1="702.90" x2="1442.00" y2="705.84" stroke="#000000" stroke-width="6" stroke-linecap="round"/>
<line x1="2164.40" y1="901.40" x2="2180.75" y2="905.04" stroke="#000000" stroke-width="6" stroke-linecap="round"/>
<line x1="2114.80" y1="890.34" x2="2135.60" y2="894.98" stroke="#000000" stroke-width="6" stroke-linecap="round"/>
<line x1="2065.20" y1="879.29" x2="2086.00" y2="883.93" stroke="#000000" stroke-width="6" stroke-linecap="round"/>
<line x1="2015.60" y1="868.24" x2="2036.40" y2="872.87" stroke="#000000" stroke-width="6" stroke-linecap="round"/>
<line x1="1966.00" y1="857.18" x2="1986.80" y2="861.82" stroke="#000000" stroke-width="6" stroke-linecap="round"/>
<line x1="1916.40" y1="846.13" x2="1937.20" y2="850.77" stroke="#000000" stroke-width="6" stroke-linecap="round"/>
<line x1="1866.80" y1="835.08" x2="1887.60" y2="839.71" stroke="#000000" stroke-width="6" stroke-linecap="round"/>
<line x1="1829.25" y1="826.71" x2="1838.00" y2="828.66" stroke="#000000" stroke-width="6" stroke-linecap="round"/>
<polygon points="619.00,282.83 602.00,253.39 636.00,253.39" fill="#FFFFFF" stroke="#000000" stroke-width="3.5" stroke-linejoin="round"/>
<polygon points="685.00,418.53 668.00,389.09 702.00,389.09" fill="#FFFFFF" stroke="#000000" stroke-width="3.5" stroke-linejoin="round"/>
<polygon points="751.00,469.13 734.00,439.69 768.00,439.69" fill="#FFFFFF" stroke="#000000" stroke-width="3.5" stroke-linejoin="round"/>
<polygon points="817.00,528.13 800.00,498.69 834.00,498.69" fill="#FFFFFF" stroke="#000000" stroke-width="3.5" stroke-linejoin="round"/>
<polygon points="1015.00,607.53 998.00,578.09 1032.00,578.09" fill="#FFFFFF" stroke="#000000" stroke-width="3.5" stroke-linejoin="round"/>
<polygon points="1213.00,694.63 1196.00,665.19 1230.00,665.19" fill="#FFFFFF" stroke="#000000" stroke-width="3.5" stroke-linejoin="round"/>
<polygon points="1411.00,715.63 1394.00,686.19 1428.00,686.19" fill="#FFFFFF" stroke="#000000" stroke-width="3.5" stroke-linejoin="round"/>
<polygon points="1807.00,841.38 1790.00,811.94 1824.00,811.94" fill="#FFFFFF" stroke="#000000" stroke-width="3.5" stroke-linejoin="round"/>
<polygon points="2203.00,929.63 2186.00,900.19 2220.00,900.19" fill="#FFFFFF" stroke="#000000" stroke-width="3.5" stroke-linejoin="round"/>
<line x1="619.00" y1="244.80" x2="619.00" y2="181.20" stroke="#000000" stroke-width="2"/>
<line x1="604.50" y1="181.20" x2="633.50" y2="181.20" stroke="#000000" stroke-width="2"/>
<line x1="619.00" y1="281.60" x2="619.00" y2="345.20" stroke="#000000" stroke-width="2"/>
<line x1="604.50" y1="345.20" x2="633.50" y2="345.20" stroke="#000000" stroke-width="2"/>
<line x1="685.00" y1="380.50" x2="685.00" y2="326.90" stroke="#000000" stroke-width="2"/>
<line x1="670.50" y1="326.90" x2="699.50" y2="326.90" stroke="#000000" stroke-width="2"/>
<line x1="685.00" y1="417.30" x2="685.00" y2="470.90" stroke="#000000" stroke-width="2"/>
<line x1="670.50" y1="470.90" x2="699.50" y2="470.90" stroke="#000000" stroke-width="2"/>
<line x1="751.00" y1="431.10" x2="751.00" y2="380.90" stroke="#000000" stroke-width="2"/>
<line x1="736.50" y1="380.90" x2="765.50" y2="380.90" stroke="#000000" stroke-width="2"/>
<line x1="751.00" y1="467.90" x2="751.00" y2="518.10" stroke="#000000" stroke-width="2"/>
<line x1="736.50" y1="518.10" x2="765.50" y2="518.10" stroke="#000000" stroke-width="2"/>
<line x1="817.00" y1="490.10" x2="817.00" y2="443.90" stroke="#000000" stroke-width="2"/>
<line x1="802.50" y1="443.90" x2="831.50" y2="443.90" stroke="#000000" stroke-width="2"/>
<line x1="817.00" y1="526.90" x2="817.00" y2="573.10" stroke="#000000" stroke-width="2"/>
<line x1="802.50" y1="573.10" x2="831.50" y2="573.10" stroke="#000000" stroke-width="2"/>
<line x1="1015.00" y1="569.50" x2="1015.00" y2="528.90" stroke="#000000" stroke-width="2"/>
<line x1="1000.50" y1="528.90" x2="1029.50" y2="528.90" stroke="#000000" stroke-width="2"/>
<line x1="1015.00" y1="606.30" x2="1015.00" y2="646.90" stroke="#000000" stroke-width="2"/>
<line x1="1000.50" y1="646.90" x2="1029.50" y2="646.90" stroke="#000000" stroke-width="2"/>
<line x1="1213.00" y1="656.60" x2="1213.00" y2="622.30" stroke="#000000" stroke-width="2"/>
<line x1="1198.50" y1="622.30" x2="1227.50" y2="622.30" stroke="#000000" stroke-width="2"/>
<line x1="1213.00" y1="693.40" x2="1213.00" y2="727.70" stroke="#000000" stroke-width="2"/>
<line x1="1198.50" y1="727.70" x2="1227.50" y2="727.70" stroke="#000000" stroke-width="2"/>
<line x1="1411.00" y1="677.60" x2="1411.00" y2="645.00" stroke="#000000" stroke-width="2"/>
<line x1="1396.50" y1="645.00" x2="1425.50" y2="645.00" stroke="#000000" stroke-width="2"/>
<line x1="1411.00" y1="714.40" x2="1411.00" y2="747.00" stroke="#000000" stroke-width="2"/>
<line x1="1396.50" y1="747.00" x2="1425.50" y2="747.00" stroke="#000000" stroke-width="2"/>
<line x1="1807.00" y1="803.35" x2="1807.00" y2="778.55" stroke="#000000" stroke-width="2"/>
<line x1="1792.50" y1="778.55" x2="1821.50" y2="778.55" stroke="#000000" stroke-width="2"/>
<line x1="1807.00" y1="840.15" x2="1807.00" y2="864.95" stroke="#000000" stroke-width="2"/>
<line x1="1792.50" y1="864.95" x2="1821.50" y2="864.95" stroke="#000000" stroke-width="2"/>
<line x1="2203.00" y1="891.60" x2="2203.00" y2="873.90" stroke="#000000" stroke-width="2"/>
<line x1="2188.50" y1="873.90" x2="2217.50" y2="873.90" stroke="#000000" stroke-width="2"/>
<line x1="2203.00" y1="928.40" x2="2203.00" y2="946.10" stroke="#000000" stroke-width="2"/>
<line x1="2188.50" y1="946.10" x2="2217.50" y2="946.10" stroke="#000000" stroke-width="2"/>
</g>
<line x1="662" y1="763.70" x2="865" y2="763.70" stroke="#00FFFF" stroke-width="8" stroke-linecap="round"/>
<rect x="742.00" y="742.20" width="43" height="43" fill="#00FFFF"/>
<g font-family="Liberation Sans, Arial, sans-serif" fill="#000"><text transform="translate(887.40,791.00) scale(1,1.04)" font-size="80" text-anchor="start">BC</text></g>
<line x1="662" y1="861.70" x2="865" y2="861.70" stroke="#000000" stroke-width="8" stroke-linecap="round"/>
<polygon points="763.50,895.76 734.00,844.67 793.00,844.67" fill="#000000"/>
<g font-family="Liberation Sans, Arial, sans-serif" fill="#000"><text transform="translate(887.40,889.00) scale(1,1.04)" font-size="80" text-anchor="start">BC/Ce-300</text></g>
<line x1="662" y1="959.70" x2="865" y2="959.70" stroke="#000000" stroke-width="6" stroke-linecap="round" stroke-dasharray="20.8 28.1"/>
<polygon points="763.50,984.24 742.25,947.43 784.75,947.43" fill="#FFFFFF" stroke="#000000" stroke-width="4.5" stroke-linejoin="round"/>
<g font-family="Liberation Sans, Arial, sans-serif" fill="#000"><text transform="translate(887.40,987.00) scale(1,1.04)" font-size="80" text-anchor="start">BC/Ce-300-5h</text></g>
<line x1="662" y1="1057.70" x2="865" y2="1057.70" stroke="#FF0000" stroke-width="8" stroke-linecap="round"/>
<circle cx="763.50" cy="1057.70" r="24.25" fill="#FF0000"/>
<g font-family="Liberation Sans, Arial, sans-serif" fill="#000"><text transform="translate(887.40,1085.00) scale(1,1.04)" font-size="80" text-anchor="start">BC/Ce-350</text></g>
<line x1="662" y1="1155.70" x2="865" y2="1155.70" stroke="#00FF00" stroke-width="8" stroke-linecap="round"/>
<polygon points="763.50,1121.64 734.00,1172.73 793.00,1172.73" fill="#00FF00"/>
<g font-family="Liberation Sans, Arial, sans-serif" fill="#000"><text transform="translate(887.40,1183.00) scale(1,1.04)" font-size="80" text-anchor="start">BC/Ce-400</text></g>
<line x1="662" y1="1253.70" x2="865" y2="1253.70" stroke="#0000FF" stroke-width="8" stroke-linecap="round"/>
<polygon points="729.44,1253.70 780.53,1224.20 780.53,1283.20" fill="#0000FF"/>
<g font-family="Liberation Sans, Arial, sans-serif" fill="#000"><text transform="translate(887.40,1281.00) scale(1,1.04)" font-size="80" text-anchor="start">BC/Ce-500</text></g>
<line x1="662" y1="1351.70" x2="865" y2="1351.70" stroke="#FF00FF" stroke-width="8" stroke-linecap="round"/>
<rect x="742.00" y="1330.20" width="43" height="43" fill="#FF00FF"/>
<g font-family="Liberation Sans, Arial, sans-serif" fill="#000"><text transform="translate(887.40,1379.00) scale(1,1.04)" font-size="80" text-anchor="start">CeO<tspan font-size="46" dy="30.8">2</tspan></text></g></svg>
</body></html>
